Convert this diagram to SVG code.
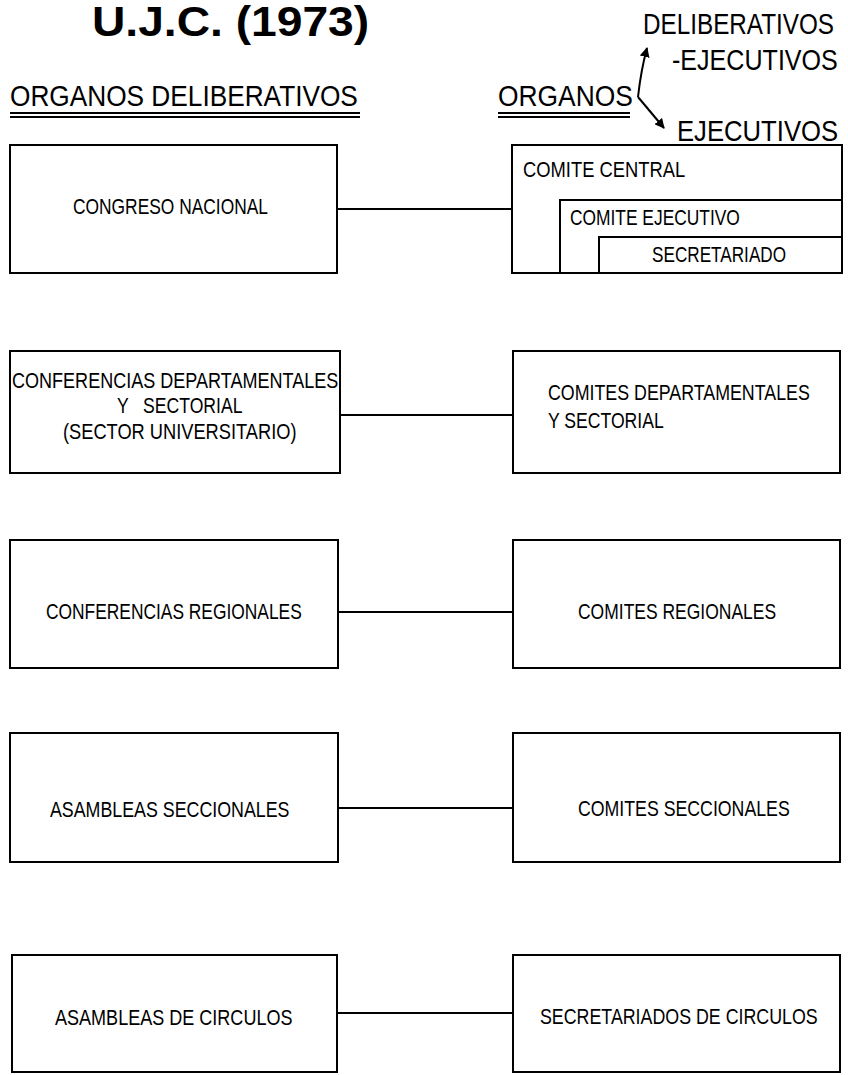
<svg xmlns="http://www.w3.org/2000/svg" width="848" height="1075" viewBox="0 0 848 1075">
<style>
.t{font-family:"Liberation Sans",Arial,sans-serif;font-size:22px;fill:#000}
.h{font-family:"Liberation Sans",Arial,sans-serif;font-size:29px;fill:#000}
.title{font-family:"Liberation Sans",Arial,sans-serif;font-weight:900;font-size:42px;fill:#000}
.box{fill:none;stroke:#000;stroke-width:2}
.ln{fill:none;stroke:#000;stroke-width:2}
</style>
<defs>
<marker id="ah" viewBox="0 0 10 10" refX="9" refY="5" markerWidth="5" markerHeight="5" orient="auto" markerUnits="strokeWidth">
<path d="M0,0 L10,5 L0,10 Z" fill="#000"/>
</marker>
</defs>
<rect width="848" height="1075" fill="#fff"/>
<g id="title">
<text class="title" transform="translate(92,36) scale(1.1,1)">U.J.C. (1973)</text>
</g>
<g id="headers">
<text class="h" transform="translate(10,106) scale(0.905,1)">ORGANOS DELIBERATIVOS</text>
<line class="ln" x1="10" y1="113" x2="360" y2="113"/>
<line class="ln" x1="10" y1="117" x2="360" y2="117" stroke-width="1.5"/>
<text class="h" transform="translate(498,106) scale(0.91,1)">ORGANOS</text>
<line class="ln" x1="498" y1="113" x2="630" y2="113"/>
<line class="ln" x1="498" y1="117" x2="630" y2="117" stroke-width="1.5"/>
<text class="h" transform="translate(643,34) scale(0.837,1)">DELIBERATIVOS</text>
<text class="h" transform="translate(672,70) scale(0.865,1)">-EJECUTIVOS</text>
<text class="h" transform="translate(677,141) scale(0.885,1)">EJECUTIVOS</text>
<path class="ln" d="M638,97 Q641,70 647,48" stroke-width="2.5" marker-end="url(#ah)"/>
<path class="ln" d="M638,97 L664,128" stroke-width="2.5" marker-end="url(#ah)"/>
</g>
<g id="connectors">
<line class="ln" x1="337" y1="209" x2="512" y2="209"/>
<line class="ln" x1="340" y1="415" x2="513" y2="415"/>
<line class="ln" x1="338" y1="612" x2="513" y2="612"/>
<line class="ln" x1="338" y1="808" x2="513" y2="808"/>
<line class="ln" x1="337" y1="1013" x2="513" y2="1013"/>
</g>
<g id="congreso">
<rect class="box" x="10" y="145" width="327" height="128"/>
<text class="t" transform="translate(73,214) scale(0.79,1)">CONGRESO NACIONAL</text>
</g>
<g id="comite-central">
<rect class="box" x="512" y="145" width="330" height="128"/>
<text class="t" transform="translate(523,177) scale(0.835,1)">COMITE CENTRAL</text>
</g>
<g id="comite-ejecutivo">
<path class="box" d="M560,273 V200 H842"/>
<text class="t" transform="translate(570,225) scale(0.79,1)">COMITE EJECUTIVO</text>
</g>
<g id="secretariado">
<path class="box" d="M599,273 V237 H842"/>
<text class="t" transform="translate(652,262) scale(0.78,1)">SECRETARIADO</text>
</g>
<g id="conf-dep">
<rect class="box" x="10" y="351" width="330" height="122"/>
<text class="t" transform="translate(12,388) scale(0.82,1)">CONFERENCIAS DEPARTAMENTALES</text>
<text class="t" transform="translate(117,413) scale(0.8,1)" xml:space="preserve">Y   SECTORIAL</text>
<text class="t" transform="translate(63,439) scale(0.83,1)">(SECTOR UNIVERSITARIO)</text>
</g>
<g id="comites-dep">
<rect class="box" x="513" y="351" width="327" height="122"/>
<text class="t" transform="translate(548,400) scale(0.81,1)">COMITES DEPARTAMENTALES</text>
<text class="t" transform="translate(548,428) scale(0.8,1)">Y SECTORIAL</text>
</g>
<g id="conf-reg">
<rect class="box" x="10" y="540" width="328" height="128"/>
<text class="t" transform="translate(46,619) scale(0.79,1)">CONFERENCIAS REGIONALES</text>
</g>
<g id="comites-reg">
<rect class="box" x="513" y="540" width="327" height="128"/>
<text class="t" transform="translate(578,619) scale(0.795,1)">COMITES REGIONALES</text>
</g>
<g id="asam-secc">
<rect class="box" x="10" y="733" width="328" height="129"/>
<text class="t" transform="translate(50,817) scale(0.81,1)">ASAMBLEAS SECCIONALES</text>
</g>
<g id="comites-secc">
<rect class="box" x="513" y="733" width="327" height="129"/>
<text class="t" transform="translate(578,816) scale(0.806,1)">COMITES SECCIONALES</text>
</g>
<g id="asam-circ">
<rect class="box" x="12" y="955" width="325" height="117"/>
<text class="t" transform="translate(55,1025) scale(0.82,1)">ASAMBLEAS DE CIRCULOS</text>
</g>
<g id="secr-circ">
<rect class="box" x="513" y="955" width="327" height="117"/>
<text class="t" transform="translate(540,1024) scale(0.81,1)">SECRETARIADOS DE CIRCULOS</text>
</g>
</svg>
